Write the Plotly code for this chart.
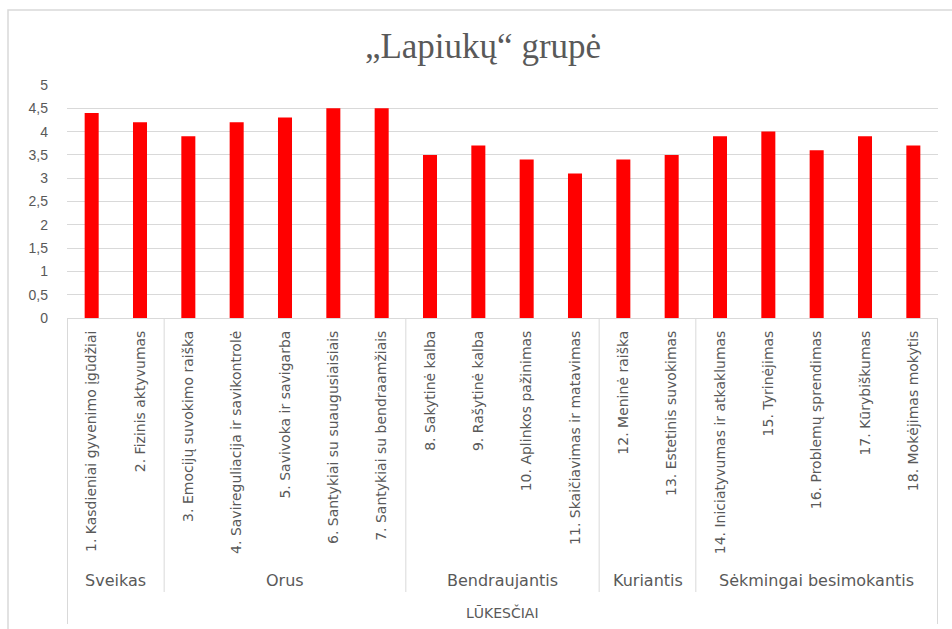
import plotly.graph_objects as go

# Survey results for the "Lapiukų" group
items = [
    "1. Kasdieniai gyvenimo įgūdžiai",
    "2. Fizinis aktyvumas",
    "3. Emocijų suvokimo raiška",
    "4. Savireguliacija ir savikontrolė",
    "5. Savivoka ir savigarba",
    "6. Santykiai su suaugusiaisiais",
    "7. Santykiai su bendraamžiais",
    "8. Sakytinė kalba",
    "9. Rašytinė kalba",
    "10. Aplinkos pažinimas",
    "11. Skaičiavimas ir matavimas",
    "12. Meninė raiška",
    "13. Estetinis suvokimas",
    "14. Iniciatyvumas ir atkaklumas",
    "15. Tyrinėjimas",
    "16. Problemų sprendimas",
    "17. Kūrybiškumas",
    "18. Mokėjimas mokytis",
]
scores = [4.4, 4.2, 3.9, 4.2, 4.3, 4.5, 4.5, 3.5, 3.7, 3.4, 3.1, 3.4, 3.5, 3.9, 4.0, 3.6, 3.9, 3.7]
groups = ["Sveikas", "Orus", "Bendraujantis", "Kuriantis", "Sėkmingai besimokantis"]
group_sizes = [2, 5, 4, 2, 5]
outer_label = "LŪKESČIAI"
title = "„Lapiukų“ grupė"

W, H = 952, 629
L, R, T, B = 67, 14, 85, 311
pw, ph = W - L - R, H - T - B


def px_x(px):
    return (px - L) / pw


def px_y(py):
    return (H - B - py) / ph


GRAY = "#595959"
LINE = "#d9d9d9"
LABEL_FONT = "DejaVu Sans"

fig = go.Figure(go.Bar(x=items, y=scores, marker_color="#ff0000", marker_line_width=0))

shapes = []
annotations = []

# group boundaries and labels along the category axis
start = 0
bounds = [-0.5]
for name, n in zip(groups, group_sizes):
    annotations.append(dict(
        x=start + (n - 1) / 2, y=px_y(580), xref="x", yref="paper",
        text=name, showarrow=False, font=dict(family=LABEL_FONT, size=16, color=GRAY),
        xanchor="center", yanchor="middle"))
    start += n
    bounds.append(start - 0.5)

for i, b in enumerate(bounds):
    outer = i == 0 or i == len(bounds) - 1
    shapes.append(dict(
        type="line", xref="x", yref="paper", x0=b, x1=b,
        y0=0, y1=px_y(624 if outer else 592),
        line=dict(color=LINE, width=1)))

annotations.append(dict(
    x=(len(items) - 1) / 2, y=px_y(612), xref="x", yref="paper",
    text=outer_label, showarrow=False, font=dict(family=LABEL_FONT, size=14, color=GRAY),
    xanchor="center", yanchor="middle"))

# chart area border
shapes.append(dict(
    type="rect", xref="paper", yref="paper",
    x0=px_x(8), x1=px_x(965), y0=px_y(10), y1=px_y(640),
    line=dict(color=LINE, width=1.5), layer="below"))

fig.update_layout(
    width=W, height=H,
    margin=dict(l=L, r=R, t=T, b=B),
    paper_bgcolor="white", plot_bgcolor="white",
    separators=", ",
    showlegend=False,
    bargap=0.71,
    title=dict(text=title, x=483 / W, xanchor="center", y=1 - 46 / H, yanchor="middle",
               font=dict(family="Liberation Serif", size=35, color=GRAY)),
    font=dict(family="Liberation Sans", color=GRAY),
    shapes=shapes,
    annotations=annotations,
)
fig.update_yaxes(range=[0, 5], dtick=0.5, showgrid=True, gridcolor=LINE, gridwidth=1,
                 zeroline=False, showline=False, ticks="",
                 tickfont=dict(size=14, color=GRAY), ticklabelstandoff=18)
fig.update_xaxes(type="category", tickangle=-90, showline=True, linecolor=LINE,
                 ticks="", tickfont=dict(family=LABEL_FONT, size=14, color=GRAY),
                 ticklabelstandoff=6)

fig.write_html("out.html")
